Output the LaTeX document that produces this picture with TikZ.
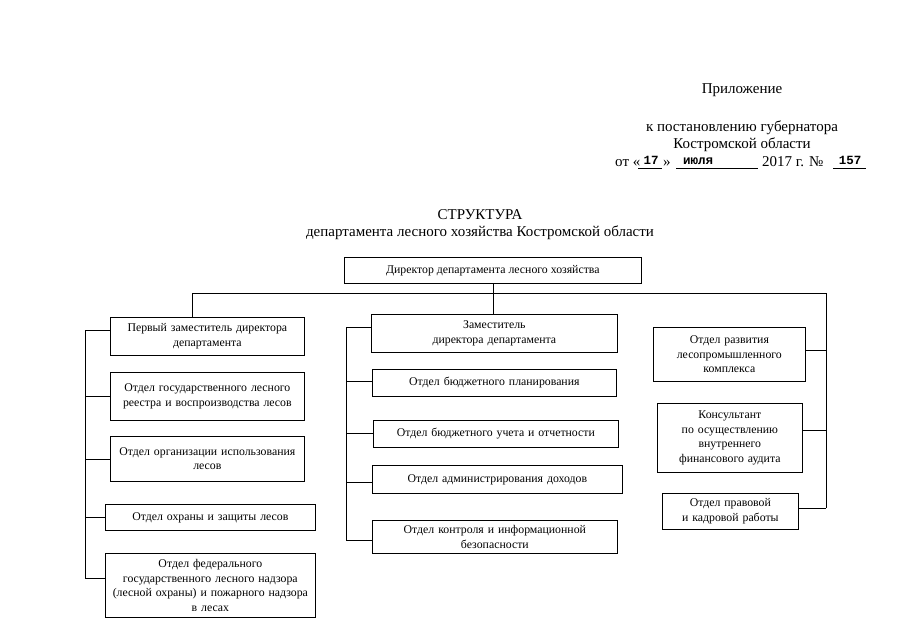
\documentclass[tikz,border=0pt]{standalone}
\usepackage{fontspec}
\setmainfont{Liberation Serif}
\newfontfamily\typew{Liberation Mono}
\begin{document}
\begin{tikzpicture}[x=1pt,y=-1pt,
  box/.style={draw, line width=0.7pt, align=center, inner sep=1pt, anchor=north west,
    font=\fontsize{11.8}{14.5}\selectfont},
  conn/.style={line width=0.7pt},
  hdr/.style={inner sep=0pt, font=\fontsize{15}{17}\selectfont},
  fill in/.style={inner sep=0pt, font=\typew\bfseries\fontsize{12.5}{14}\selectfont}]
\useasboundingbox (0,0) rectangle (905,640);
% header
\node[hdr] (pril) at (742,90) {Приложение};
\node[hdr] (post) at (742,128) {к постановлению губернатора};
\node[hdr] (obl) at (742,145) {Костромской области};
\node[hdr, anchor=base west] (ot) at (615,166) {от «};
\node[hdr, anchor=base west] (gg) at (762,166) {2017 г. №};
\node[hdr, anchor=base west] (qq) at (663,166) {»};
\node[fill in, anchor=base] (day) at (651,164) {17};
\node[fill in, anchor=base] (mon) at (698,164) {июля};
\node[fill in, anchor=base] (num) at (850,164) {157};
\coordinate (u1a) at (638,168); \coordinate (u1b) at (662,168);
\coordinate (u2a) at (676,168); \coordinate (u2b) at (758,168);
\coordinate (u3a) at (833,168); \coordinate (u3b) at (866,168);
\draw[line width=0.6pt] (u1a) -- (u1b) (u2a) -- (u2b) (u3a) -- (u3b);
% title
\node[hdr] (t1) at (480,215) {СТРУКТУРА};
\node[hdr] (t2) at (480,233) {департамента лесного хозяйства Костромской области};
% boxes
\node[box, minimum width=297pt, minimum height=26pt] (dir) at (344,257) {Директор департамента лесного хозяйства};
% left
\node[box, minimum width=194pt, minimum height=38pt, text width=188pt] (fd) at (110,317) {Первый заместитель директора\\департамента};
\node[box, minimum width=194pt, minimum height=48pt, text width=188pt] (gr) at (110,372) {Отдел государственного лесного\\реестра и воспроизводства лесов};
\node[box, minimum width=194pt, minimum height=45pt, text width=188pt] (org) at (110,436) {Отдел организации использования\\лесов};
\node[box, minimum width=210pt, minimum height=26pt, text width=204pt] (ohr) at (105,504) {Отдел охраны и защиты лесов};
\node[box, minimum width=210pt, minimum height=64pt, text width=204pt] (fed) at (105,553) {Отдел федерального\\государственного лесного надзора\\(лесной охраны) и пожарного надзора\\в лесах};
% middle
\node[box, minimum width=246pt, minimum height=38pt, text width=240pt] (zam) at (371,314) {Заместитель\\директора департамента};
\node[box, minimum width=244pt, minimum height=27pt, text width=238pt] (bp) at (372,369) {Отдел бюджетного планирования};
\node[box, minimum width=245pt, minimum height=27pt, text width=239pt] (bu) at (373,420) {Отдел бюджетного учета и отчетности};
\node[box, minimum width=250pt, minimum height=28pt, text width=244pt] (adm) at (372,465) {Отдел администрирования доходов};
\node[box, minimum width=245pt, minimum height=33pt, text width=239pt] (ctl) at (372,520) {Отдел контроля и информационной\\безопасности};
% right
\node[box, minimum width=152pt, minimum height=54pt, text width=146pt] (raz) at (653,327) {Отдел развития\\лесопромышленного\\комплекса};
\node[box, minimum width=145pt, minimum height=69pt, text width=139pt] (kons) at (657,403) {Консультант\\по осуществлению\\внутреннего\\финансового аудита};
\node[box, minimum width=136pt, minimum height=36pt, text width=130pt] (prav) at (662,493) {Отдел правовой\\и кадровой работы};
% top connectors
\coordinate (hl) at (192,293);
\coordinate (hr) at (826,293);
\coordinate (hm) at (dir.south |- hl);
\draw[conn] (hl) -- (hr);
\draw[conn] (dir.south) -- (hm) -- (hm |- zam.north);
\draw[conn] (hl) -- (hl |- fd.north);
% left spine
\coordinate (ls1) at (85,330);
\coordinate (ls2) at (85,396);
\coordinate (ls3) at (85,459);
\coordinate (ls4) at (85,517);
\coordinate (ls5) at (85,578);
\draw[conn] (ls1) -- (ls5);
\draw[conn] (ls1) -- (ls1 -| fd.west);
\draw[conn] (ls2) -- (ls2 -| gr.west);
\draw[conn] (ls3) -- (ls3 -| org.west);
\draw[conn] (ls4) -- (ls4 -| ohr.west);
\draw[conn] (ls5) -- (ls5 -| fed.west);
% middle spine
\coordinate (ms1) at (346,327);
\coordinate (ms2) at (346,381);
\coordinate (ms3) at (346,433);
\coordinate (ms4) at (346,482);
\coordinate (ms5) at (346,540);
\draw[conn] (ms1) -- (ms5);
\draw[conn] (ms1) -- (ms1 -| zam.west);
\draw[conn] (ms2) -- (ms2 -| bp.west);
\draw[conn] (ms3) -- (ms3 -| bu.west);
\draw[conn] (ms4) -- (ms4 -| adm.west);
\draw[conn] (ms5) -- (ms5 -| ctl.west);
% right spine
\coordinate (rs1) at (826,350);
\coordinate (rs2) at (826,430);
\coordinate (rs3) at (826,508);
\draw[conn] (hr) -- (rs3);
\draw[conn] (rs1) -- (rs1 -| raz.east);
\draw[conn] (rs2) -- (rs2 -| kons.east);
\draw[conn] (rs3) -- (rs3 -| prav.east);
\end{tikzpicture}
\end{document}
